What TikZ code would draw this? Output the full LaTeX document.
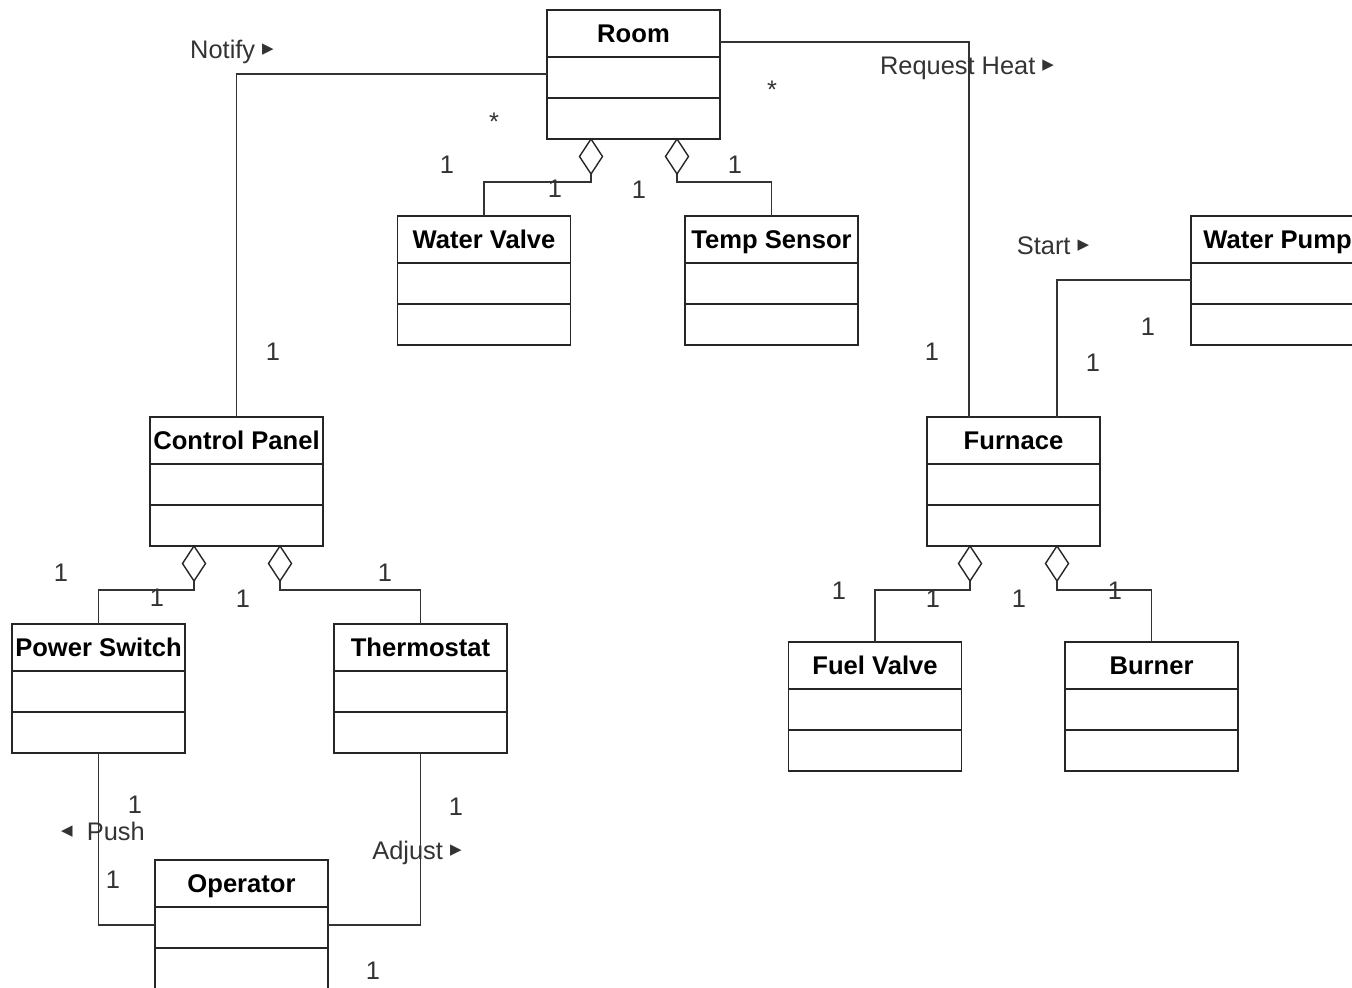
\documentclass[tikz,border=0pt]{standalone}
\usepackage{fontspec}
\setmainfont{Liberation Sans}
\newfontfamily\symb{DejaVu Sans}
\usetikzlibrary{shapes.geometric,positioning,calc}
\newcommand{\rtri}{\raisebox{0.18em}{\symb\fontsize{7.5}{8}\selectfont ▶}}
\newcommand{\ltri}{\raisebox{0.18em}{\symb\fontsize{7.5}{8}\selectfont ◀}}

\begin{document}
\begin{tikzpicture}[x=0.5pt,y=-0.5pt,
  cls/.style={draw=black!85,line width=0.8pt,fill=white,minimum width=86.5pt,minimum height=23.5pt,
    inner sep=0pt,outer sep=0pt,text height=9.2pt,text depth=0pt,
    font=\bfseries\fontsize{12.8}{15}\selectfont},
  part/.style={cls,minimum height=20.5pt},
  agg/.style={diamond,draw=black!85,line width=0.7pt,fill=white,minimum width=11.5pt,minimum height=17.5pt,inner sep=0pt,outer sep=0pt},
  lnk/.style={draw=black!80,line width=0.6pt},
  lbl/.style={font=\fontsize{12.7}{15}\selectfont,text=black!80,inner sep=0pt,text height=9.2pt,text depth=0pt}]
\useasboundingbox (0,0) rectangle (1352,988);
\clip (0,0) rectangle (1352,988);
% classes
\foreach \n/\t/\x/\y in {room/Room/633.5/33.5, wv/Water Valve/484/239.5, ts/Temp Sensor/771.5/239.5,
    wp/Water Pump/1277.5/239.5, cp/Control Panel/236.5/440.5, furn/Furnace/1013.5/440.5,
    ps/Power Switch/98.5/647.5, th/Thermostat/420.5/647.5, fv/Fuel Valve/875/665.5,
    bu/Burner/1151.5/665.5, op/Operator/241.5/883.5}{
  \node[cls] (\n) at (\x,\y) {\t};
  \node[part,below=0pt of \n] (\n2) {};
  \node[part,below=0pt of \n2] (\n3) {};
}
% aggregation diamonds
\node[agg,anchor=north] (rd1) at ($(room3.south)+(-42.5,0)$) {};
\node[agg,anchor=north] (rd2) at ($(room3.south)+(43.5,0)$) {};
\node[agg,anchor=north] (cd1) at ($(cp3.south)+(-42.5,0)$) {};
\node[agg,anchor=north] (cd2) at ($(cp3.south)+(43.5,0)$) {};
\node[agg,anchor=north] (fd1) at ($(furn3.south)+(-43.5,0)$) {};
\node[agg,anchor=north] (fd2) at ($(furn3.south)+(43.5,0)$) {};
% associations
\draw[lnk] ($(room2.west)+(0,-3.5)$) -| (cp.north);
\draw[lnk] ($(room.east)+(0,8.5)$) -| ($(furn.north)+(-44.5,0)$);
\draw[lnk] ($(wp2.west)+(0,-3.5)$) -| ($(furn.north)+(43.5,0)$);
\draw[lnk] (rd1.south) -- ++(0,8) -| (wv.north);
\draw[lnk] (rd2.south) -- ++(0,8) -| (ts.north);
\draw[lnk] (cd1.south) -- ++(0,9) -| (ps.north);
\draw[lnk] (cd2.south) -- ++(0,9) -| (th.north);
\draw[lnk] (fd1.south) -- ++(0,9) -| (fv.north);
\draw[lnk] (fd2.south) -- ++(0,9) -| (bu.north);
\draw[lnk] (ps3.south) |- ($(op2.west)+(0,-2.5)$);
\draw[lnk] (th3.south) |- ($(op2.east)+(0,-2.5)$);
% role names and multiplicities
\node[lbl] (notify) at (232,49) {Notify \rtri};
\node[lbl] (reqheat) at (967,65) {Request Heat \rtri};
\node[lbl] (start) at (1053,245) {Start \rtri};
\node[lbl] (push) at (103,831) {\ltri\ \ Push};
\node[lbl] (adjust) at (417,850) {Adjust \rtri};
\node[lbl] (s1) at (494,121) {*};
\node[lbl] (s2) at (772,89) {*};
\foreach \i/\x/\y in {1/273/351, 2/932/351, 3/447/164, 4/555/188, 5/639/189, 6/735/164,
    7/1148/326, 8/1093/362, 9/61/572, 10/157/597, 11/243/598, 12/385/572,
    13/839/590, 14/933/598, 15/1019/598, 16/1115/590, 17/135/804, 18/113/879,
    19/456/806, 20/373/970}
  \node[lbl] (m\i) at (\x,\y) {1};
\end{tikzpicture}
\end{document}
